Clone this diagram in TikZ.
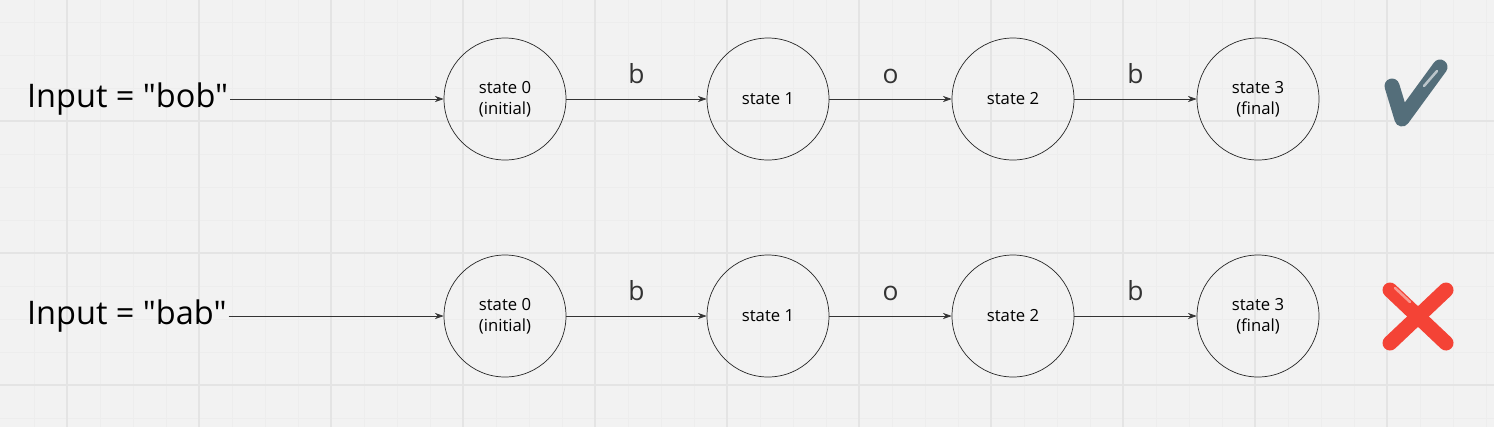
\documentclass[tikz,border=0pt]{standalone}
\usepackage{fontspec}
\setmainfont{Open Sans}[Ligatures=TeXOff]
\usetikzlibrary{arrows.meta}
\definecolor{bgcol}{HTML}{F2F2F2}
\definecolor{gridcol}{HTML}{E4E4E4}
\definecolor{minorcol}{HTML}{EDEDED}
\definecolor{checkcol}{HTML}{546E7A}
\definecolor{crosscol}{HTML}{F44336}
\newlength{\pxu}\setlength{\pxu}{0.02cm}
\tikzset{
  statenode/.style={circle, draw=black!85, thin, minimum size=122\pxu, inner sep=0pt, align=center, font=\fontsize{9.5}{12}\selectfont},
  inputnode/.style={font=\fontsize{18.5}{22}\selectfont, inner sep=1pt},
  symlabel/.style={font=\fontsize{15}{17}\selectfont},
  trans/.style={-{Stealth[length=5pt,width=3.5pt]}, black!80, thin}
}
\begin{document}
\begin{tikzpicture}[x=0.02cm, y=-0.02cm]
  \fill[bgcol] (0,0) rectangle (1494,427);
  \useasboundingbox (0,0) rectangle (1494,427);
  % grid
  \foreach \gx in {1,...,45} \draw[minorcol, line width=0.5pt] (\gx*33+1,0) -- (\gx*33+1,427);
  \foreach \gy in {0,...,12} \draw[minorcol, line width=0.5pt] (0,22+\gy*33) -- (1494,22+\gy*33);
  \foreach \gx in {67,199,331,463,595,727,859,991,1123,1255,1387} \draw[gridcol, line width=0.7pt] (\gx,0) -- (\gx,427);
  \foreach \gy in {121,253,385} \draw[gridcol, line width=0.7pt] (0,\gy) -- (1494,\gy);

  % top row
  \node[inputnode, anchor=west] (in-bob) at (25,99) {Input = "bob"};
  \node[statenode] (bob-s0) at (505,99) {state 0\\(initial)};
  \node[statenode] (bob-s1) at (768,99) {state 1};
  \node[statenode] (bob-s2) at (1013,99) {state 2};
  \node[statenode] (bob-s3) at (1258,99) {state 3\\(final)};
  \draw[trans] (in-bob) -- (bob-s0);
  \draw[trans] (bob-s0) -- node[symlabel, above=5pt] {b} (bob-s1);
  \draw[trans] (bob-s1) -- node[symlabel, above=5pt] {o} (bob-s2);
  \draw[trans] (bob-s2) -- node[symlabel, above=5pt] {b} (bob-s3);

  % bottom row
  \node[inputnode, anchor=west] (in-bab) at (25,316) {Input = "bab"};
  \node[statenode] (bab-s0) at (505,316) {state 0\\(initial)};
  \node[statenode] (bab-s1) at (768,316) {state 1};
  \node[statenode] (bab-s2) at (1013,316) {state 2};
  \node[statenode] (bab-s3) at (1258,316) {state 3\\(final)};
  \draw[trans] (in-bab) -- (bab-s0);
  \draw[trans] (bab-s0) -- node[symlabel, above=5pt] {b} (bab-s1);
  \draw[trans] (bab-s1) -- node[symlabel, above=5pt] {o} (bab-s2);
  \draw[trans] (bab-s2) -- node[symlabel, above=5pt] {b} (bab-s3);

  % check and cross
  \draw[checkcol, line width=15\pxu, line cap=round, line join=round] (1392,86) -- (1402,119) -- (1440,67);
  \draw[white!60!checkcol, line width=2.5\pxu, line cap=round] (1424,86) -- (1437,71);
  \draw[crosscol, line width=15\pxu, line cap=round] (1390,290) -- (1446,343);
  \draw[crosscol, line width=15\pxu, line cap=round] (1446,290) -- (1390,343);
  \draw[white!45!crosscol, line width=2.5\pxu, line cap=round] (1395,288) -- (1410,302);
\end{tikzpicture}
\end{document}
